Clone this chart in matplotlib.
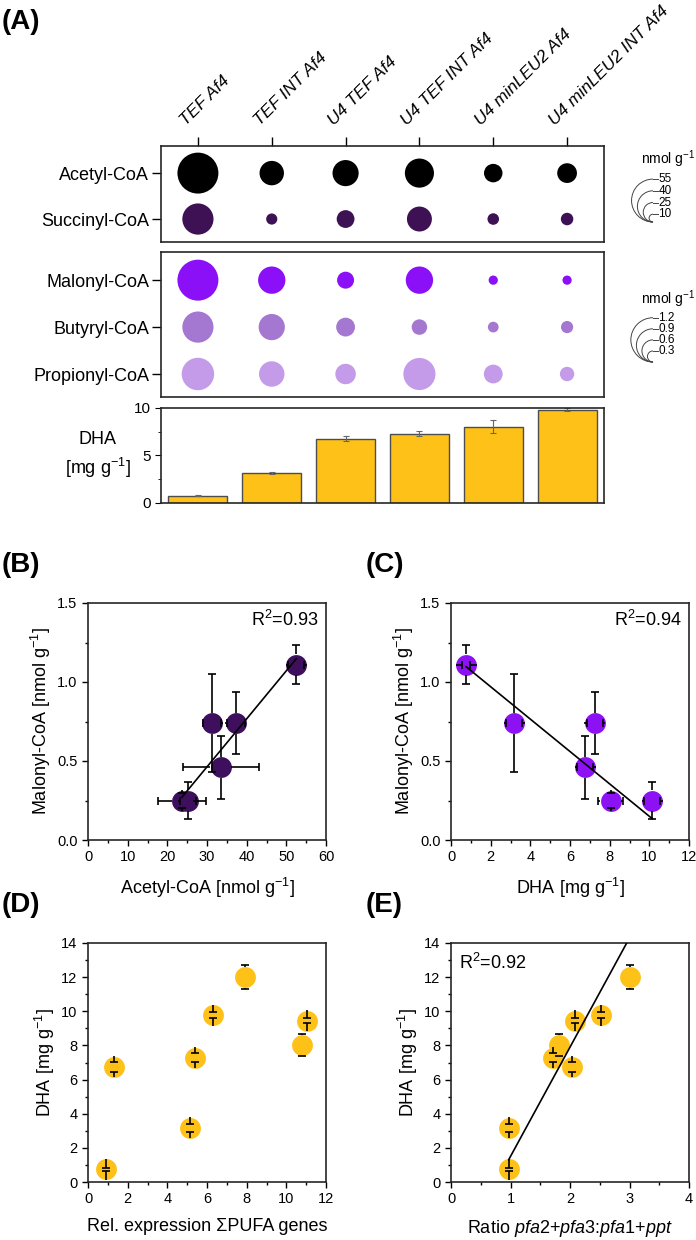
import numpy as np
import matplotlib.pyplot as plt
from matplotlib.patches import Arc
from matplotlib.ticker import MultipleLocator
from matplotlib.transforms import offset_copy

plt.rcParams['font.family'] = ['Liberation Sans', 'DejaVu Sans']
plt.rcParams['mathtext.fontset'] = 'custom'
plt.rcParams['mathtext.rm'] = 'Liberation Sans'
plt.rcParams['mathtext.it'] = 'Liberation Sans:italic'
plt.rcParams['axes.linewidth'] = 1.2
plt.rcParams['axes.edgecolor'] = '#262626'

# strains in panel A (left to right)
strains = ['TEF Af4', 'TEF INT Af4', 'U4 TEF Af4', 'U4 TEF INT Af4',
           'U4 minLEU2 Af4', 'U4 minLEU2 INT Af4']

# acyl-CoA levels [nmol/g]
acetyl = [52.5, 31.3, 33.5, 37.3, 23.7, 25.3]
acetyl_err = [2.0, 2.3, 9.5, 2.2, 6.0, 2.0]
succinyl = [40.0, 14.3, 22.8, 32.0, 14.8, 16.0]
malonyl = [1.11, 0.74, 0.46, 0.74, 0.25, 0.25]
malonyl_err = [0.125, 0.31, 0.20, 0.195, 0.045, 0.115]
butyryl = [0.845, 0.71, 0.51, 0.42, 0.29, 0.33]
propionyl = [0.88, 0.69, 0.555, 0.87, 0.51, 0.39]

# DHA [mg/g]
dha_bar = [0.75, 3.15, 6.75, 7.3, 8.05, 9.8]
dha_bar_err = [0.05, 0.1, 0.25, 0.25, 0.65, 0.15]
dha_c = [0.76, 3.19, 6.76, 7.26, 8.05, 10.15]
dha_c_err = [0.2, 0.4, 0.42, 0.4, 0.63, 0.4]

# panels D/E
dha_de = [0.74, 3.17, 6.75, 7.28, 8.02, 9.45, 9.78, 12.0]
dha_de_err = [0.08, 0.25, 0.3, 0.27, 0.64, 0.15, 0.17, 0.72]
pufa_expr = [0.89, 5.13, 1.31, 5.39, 10.77, 11.06, 6.31, 7.91]
pfa_ratio = [0.97, 0.98, 2.03, 1.72, 1.82, 2.08, 2.52, 3.0]

# linear fits (slope, intercept) and R2 labels
fit_b = [0.0304, -0.449]
fit_c = [-0.1025, 1.175]
fit_e = [6.40, -4.90]
r2_b, r2_c, r2_e = '0.93', '0.94', '0.92'

# bubble size legends
legend_top = [55, 40, 25, 10]
legend_bottom = [1.2, 0.9, 0.6, 0.3]

W, H, DPI = 696, 1240, 100
fig = plt.figure(figsize=(W / DPI, H / DPI), dpi=DPI)


def add_ax(x0, y0, x1, y1):
    # axes from pixel box (top-left origin)
    return fig.add_axes([x0 / W, 1 - y1 / H, (x1 - x0) / W, (y1 - y0) / H])


K_TOP = 0.78   # bubble diameter px per nmol/g (acetyl, succinyl)
K_BOT = 36.9   # bubble diameter px per nmol/g (malonyl, butyryl, propionyl)


def bubble(v, k):
    return (np.asarray(v) * k * 72 / DPI) ** 2


xs = np.arange(len(strains))

# ---- (A) top bubble box
ax1 = add_ax(161, 146, 604, 242)
for j, (vals, col) in enumerate([(acetyl, 'black'), (succinyl, '#3d1154')]):
    ax1.scatter(xs, np.full(len(xs), j), s=bubble(vals, K_TOP), color=col, lw=0)
ax1.set_xlim(-0.5, 5.5)
ax1.set_ylim(1.5, -0.59)
ax1.set_yticks([0, 1], ['Acetyl-CoA', 'Succinyl-CoA'])
ax1.xaxis.tick_top()
ax1.set_xticks(xs, [])
ax1.tick_params(axis='both', length=6.5, width=1, labelsize=13, pad=2)
for i, lab in enumerate(strains):
    ax1.text(i, 1, lab, style='italic', fontsize=12.5, rotation=45,
             rotation_mode='anchor', ha='left', va='baseline',
             transform=offset_copy(ax1.get_xaxis_transform(), fig=fig,
                                   x=-12, y=20, units='dots'))

# ---- (A) bottom bubble box
ax2 = add_ax(161, 252, 604, 397)
rows2 = [(malonyl, '#8b10f7'), (butyryl, '#a477d0'), (propionyl, '#c49be8')]
for j, (vals, col) in enumerate(rows2):
    ax2.scatter(xs, np.full(len(xs), j), s=bubble(vals, K_BOT), color=col, lw=0)
ax2.set_xlim(-0.5, 5.5)
ax2.set_ylim(2.49, -0.6)
ax2.set_yticks([0, 1, 2], ['Malonyl-CoA', 'Butyryl-CoA', 'Propionyl-CoA'])
ax2.set_xticks([])
ax2.tick_params(axis='y', length=6.5, width=1, labelsize=13, pad=2)

# ---- (A) DHA bars
ax3 = add_ax(161, 408, 604, 503)
ax3.bar(xs, dha_bar, 0.8, color='#fec117', edgecolor='#4d4d4d', lw=1)
ax3.errorbar(xs, dha_bar, yerr=dha_bar_err, fmt='none', ecolor='#666666',
             elinewidth=0.8, capsize=2.5, capthick=0.8)
ax3.set_xlim(-0.5, 5.5)
ax3.set_ylim(0, 10)
ax3.set_xticks([])
ax3.set_yticks([0, 5, 10])
ax3.yaxis.set_minor_locator(MultipleLocator(2.5))
ax3.tick_params(axis='y', which='major', length=4, labelsize=11)
ax3.tick_params(axis='y', which='minor', length=2.5)
ax3.set_ylabel('DHA\n[mg g$^{-1}$]', rotation=0, fontsize=13, ha='center',
               va='center', linespacing=1.4)
ax3.yaxis.set_label_coords((98 - 161) / 443, 0.5)


# ---- scatter panels
def style_ax(ax, xlim, ylim, xmaj, ymaj, xlabel, ylabel):
    ax.set_xlim(*xlim)
    ax.set_ylim(*ylim)
    ax.xaxis.set_major_locator(MultipleLocator(xmaj))
    ax.xaxis.set_minor_locator(MultipleLocator(xmaj / 2))
    ax.yaxis.set_major_locator(MultipleLocator(ymaj))
    ax.yaxis.set_minor_locator(MultipleLocator(ymaj / 2))
    ax.tick_params(which='major', length=4, width=1, labelsize=10.5)
    ax.tick_params(which='minor', length=2.5, width=1)
    ax.set_xlabel(xlabel, fontsize=13, labelpad=8)
    ax.set_ylabel(ylabel, fontsize=13, labelpad=3)


def edge_errorbars(ax, x, y, xerr=None, yerr=None, r_px=10.5, cap_px=4):
    # error bars drawn from the marker edge to the cap
    o = ax.transData.transform((0, 0))
    u = ax.transData.transform((1, 1))
    sx, sy = u[0] - o[0], u[1] - o[1]
    kw = dict(color='black', lw=1.2, zorder=4, solid_capstyle='butt')
    for i in range(len(x)):
        for sgn in (1, -1):
            if yerr is not None:
                tip = y[i] + sgn * yerr[i]
                ax.plot([x[i], x[i]], [y[i] + sgn * r_px / sy, tip], **kw)
                ax.plot([x[i] - cap_px / sx, x[i] + cap_px / sx], [tip, tip], **kw)
            if xerr is not None:
                tip = x[i] + sgn * xerr[i]
                ax.plot([x[i] + sgn * r_px / sx, tip], [y[i], y[i]], **kw)
                ax.plot([tip, tip], [y[i] - cap_px / sy, y[i] + cap_px / sy], **kw)


def fit_line(ax, x, fit, x_end=None):
    xx = np.array([min(x), max(x) if x_end is None else x_end])
    ax.plot(xx, fit[0] * xx + fit[1], color='black', lw=1.2, zorder=5)


axB = add_ax(88, 603, 326, 840)
style_ax(axB, (0, 60), (0, 1.5), 10, 0.5, 'Acetyl-CoA [nmol g$^{-1}$]',
         'Malonyl-CoA [nmol g$^{-1}$]')
axB.plot(acetyl, malonyl, 'o', ms=15, color='#3e0f5c', mec='none', zorder=3)
edge_errorbars(axB, acetyl, malonyl, acetyl_err, malonyl_err)
fit_line(axB, acetyl, fit_b)
axB.text(0.97, 0.93, 'R$^2$=' + r2_b, transform=axB.transAxes, ha='right',
         va='center', fontsize=13)

axC = add_ax(451, 603, 689, 840)
style_ax(axC, (0, 12), (0, 1.5), 2, 0.5, 'DHA [mg g$^{-1}$]',
         'Malonyl-CoA [nmol g$^{-1}$]')
axC.plot(dha_c, malonyl, 'o', ms=15, color='#8c12f4', mec='none', zorder=3)
edge_errorbars(axC, dha_c, malonyl, dha_c_err, malonyl_err)
fit_line(axC, dha_c, fit_c)
axC.text(0.97, 0.93, 'R$^2$=' + r2_c, transform=axC.transAxes, ha='right',
         va='center', fontsize=13)

axD = add_ax(88, 943, 326, 1182)
style_ax(axD, (0, 12), (0, 14), 2, 2, 'Rel. expression \u03a3PUFA genes',
         'DHA [mg g$^{-1}$]')
axD.plot(pufa_expr, dha_de, 'o', ms=15, color='#fec117', mec='none', zorder=3)
edge_errorbars(axD, pufa_expr, dha_de, None, dha_de_err)

axE = add_ax(451, 943, 689, 1182)
style_ax(axE, (0, 4), (0, 14), 1, 2,
         'Ratio $\\it{pfa2}$+$\\it{pfa3}$:$\\it{pfa1}$+$\\it{ppt}$',
         'DHA [mg g$^{-1}$]')
axE.plot(pfa_ratio, dha_de, 'o', ms=15, color='#fec117', mec='none', zorder=3)
edge_errorbars(axE, pfa_ratio, dha_de, None, dha_de_err)
fit_line(axE, pfa_ratio, fit_e, x_end=4)
axE.text(0.035, 0.915, 'R$^2$=' + r2_e, transform=axE.transAxes, ha='left',
         va='center', fontsize=13)

# ---- overlay in pixel coordinates: size legends and panel letters
ov = fig.add_axes([0, 0, 1, 1], zorder=10)
ov.set_xlim(0, W)
ov.set_ylim(H, 0)
ov.axis('off')


def size_legend(cx, bottom, vals, k, fmt, title_y):
    ov.text(668, title_y, 'nmol g$^{-1}$', fontsize=10, ha='center', va='center')
    for v in vals:
        d = v * k
        ov.add_patch(Arc((cx, bottom - d / 2), d, d, theta1=90, theta2=270,
                         color='#444444', lw=0.7))
        ov.plot([cx, cx + 5], [bottom - d, bottom - d], color='#444444', lw=0.7)
        ov.text(cx + 5.5, bottom - d, fmt.format(v), fontsize=8.5,
                ha='left', va='center')


size_legend(653, 222, legend_top, K_TOP, '{:d}', 159)
size_legend(653, 362, legend_bottom, K_BOT, '{:.1f}', 299)

for lab, x, y in [('(A)', 2, 22), ('(B)', 2, 565), ('(C)', 366, 565),
                  ('(D)', 2, 905), ('(E)', 366, 905)]:
    ov.text(x, y, lab, fontsize=20, fontweight='bold', ha='left', va='center')

fig.savefig('out.png', dpi=DPI)
